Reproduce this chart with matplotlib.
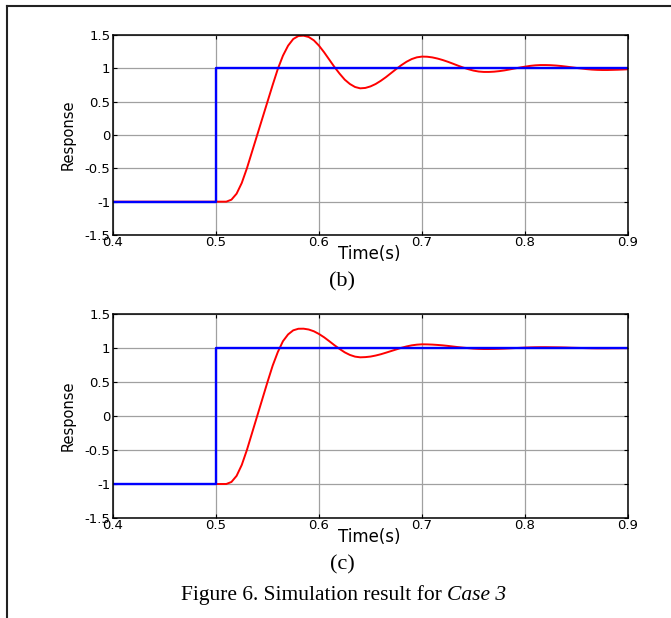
import numpy as np
import matplotlib
matplotlib.use("Agg")
import matplotlib.pyplot as plt
from matplotlib.lines import Line2D

plt.rcParams['axes.unicode_minus'] = False

# Time base of the simulated responses (s)
t_resp = [0.40] + list(np.round(np.arange(0.500, 0.9001, 0.005), 3))

# Case (b): closed-loop response
resp_b = [-1.00,
          -1.00, -1.00, -1.00, -0.97, -0.88, -0.72, -0.50, -0.25, 0.00, 0.25,
          0.50, 0.75, 0.99, 1.19, 1.34, 1.44, 1.485, 1.49, 1.47, 1.42,
          1.34, 1.24, 1.13, 1.02, 0.92, 0.83, 0.765, 0.72, 0.70, 0.706,
          0.729, 0.765, 0.813, 0.868, 0.929, 0.990, 1.048, 1.099, 1.139, 1.165,
          1.176, 1.174, 1.164, 1.147, 1.125, 1.099, 1.070, 1.040, 1.012, 0.987,
          0.966, 0.952, 0.946, 0.946, 0.950, 0.958, 0.969, 0.983, 0.998, 1.012,
          1.025, 1.037, 1.045, 1.049, 1.049, 1.047, 1.042, 1.035, 1.026, 1.016,
          1.006, 0.997, 0.988, 0.981, 0.977, 0.975, 0.975, 0.977, 0.979, 0.982,
          0.986]

# Case (c): closed-loop response
resp_c = [-1.00,
          -1.00, -1.00, -1.00, -0.97, -0.88, -0.72, -0.50, -0.25, 0.00, 0.25,
          0.50, 0.74, 0.94, 1.10, 1.20, 1.26, 1.283, 1.284, 1.272, 1.246,
          1.206, 1.157, 1.100, 1.041, 0.986, 0.936, 0.898, 0.873, 0.863, 0.866,
          0.874, 0.889, 0.908, 0.931, 0.955, 0.979, 1.003, 1.023, 1.039, 1.049,
          1.054, 1.053, 1.050, 1.045, 1.039, 1.031, 1.022, 1.013, 1.005, 0.998,
          0.991, 0.987, 0.985, 0.985, 0.986, 0.988, 0.991, 0.995, 0.999, 1.002,
          1.006, 1.009, 1.011, 1.012, 1.012, 1.011, 1.010, 1.009, 1.007, 1.004,
          1.002, 1.000, 0.998, 0.996, 0.995, 0.995, 0.995, 0.996, 0.996, 0.997,
          0.998]

# Reference step
t_ref = [0.40, 0.50, 0.50, 0.90]
ref = [-1, -1, 1, 1]

xticks = [0.4, 0.5, 0.6, 0.7, 0.8, 0.9]
xticklabels = ['0.4', '0.5', '0.6', '0.7', '0.8', '0.9']
yticks = [-1.5, -1, -0.5, 0, 0.5, 1, 1.5]
yticklabels = ['-1.5', '-1', '-0.5', '0', '0.5', '1', '1.5']

W, H = 671, 618
fig = plt.figure(figsize=(W / 100, H / 100), dpi=100)


def px(x, y):
    return x / W, 1 - y / H


def make_axes(top, bottom, resp, sub):
    ax = fig.add_axes([113 / W, 1 - bottom / H, (628 - 113) / W, (bottom - top) / H])
    ax.plot(t_resp, resp, color='#ff0000', lw=1.4)
    ax.plot(t_ref, ref, color='#0000ff', lw=1.7)
    ax.set_xlim(0.4, 0.9)
    ax.set_ylim(-1.5, 1.5)
    ax.set_xticks(xticks)
    ax.set_xticklabels(xticklabels)
    ax.set_yticks(yticks)
    ax.set_yticklabels(yticklabels)
    ax.grid(True, color='#a0a0a0', lw=0.9)
    ax.set_axisbelow(True)
    ax.tick_params(direction='in', length=3, width=0.8, top=True, right=True,
                   labelsize=9.5, colors='black')
    ax.tick_params(axis='x', pad=1)
    ax.tick_params(axis='y', pad=2)
    for s in ax.spines.values():
        s.set_linewidth(1.1)
    mid = (top + bottom) / 2
    fig.text(*px(369, bottom + 19), 'Time(s)', ha='center', va='center', fontsize=12)
    fig.text(*px(68, mid), 'Response', ha='center', va='center',
             rotation=90, fontsize=10.5)
    fig.text(*px(342, bottom + 47), sub, ha='center', va='center',
             fontsize=16, family='Liberation Serif')
    return ax


make_axes(35, 235, resp_b, '(b)')
make_axes(314, 518, resp_c, '(c)')

# caption, upright part then italic case name
fig.text(*px(442, 600), 'Figure 6. Simulation result for',
         ha='right', va='baseline', fontsize=15.5, family='Liberation Serif')
fig.text(*px(447, 600), 'Case 3', ha='left', va='baseline', fontsize=15.5,
         family='Liberation Serif', style='italic')

# page frame (left and top edges)
fig.add_artist(Line2D([7 / W, 7 / W], [0, 1 - 6 / H], color='#222222', lw=1.5))
fig.add_artist(Line2D([7 / W, 1], [1 - 6 / H, 1 - 6 / H], color='#222222', lw=1.5))

fig.savefig('out.png', dpi=100)
